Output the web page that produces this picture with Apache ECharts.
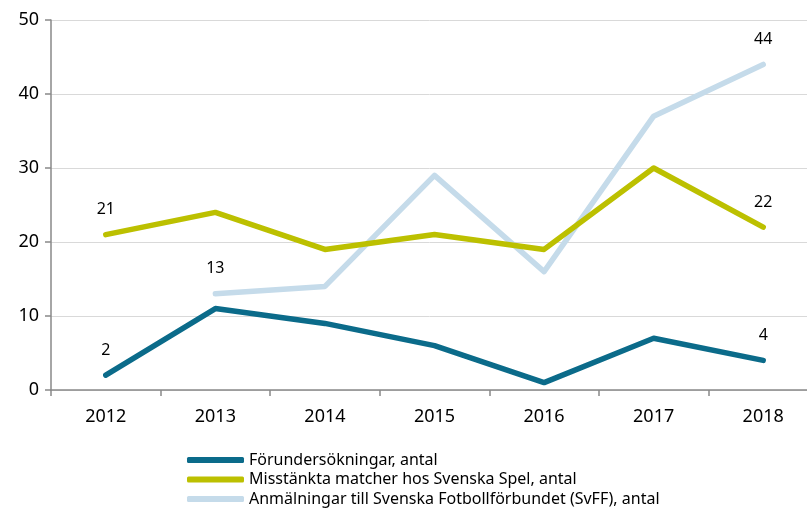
<!DOCTYPE html>
<html>
<head>
<meta charset="utf-8">
<script src="https://cdn.jsdelivr.net/npm/echarts@6/dist/echarts.min.js"></script>
<style>
  html, body { margin: 0; padding: 0; background: #fff; }
  #chart { width: 807px; height: 508px; }
</style>
</head>
<body>
<div id="chart"></div>
<script>
// kategorier och serier
var years = ["2012", "2013", "2014", "2015", "2016", "2017", "2018"];
var forundersokningar = [2, 11, 9, 6, 1, 7, 4];
var misstankta = [21, 24, 19, 21, 19, 30, 22];
var anmalningar = [null, 13, 14, 29, 16, 37, 44];
var seriesNames = [
  "Förundersökningar, antal",
  "Misstänkta matcher hos Svenska Spel, antal",
  "Anmälningar till Svenska Fotbollförbundet (SvFF), antal"
];
var colors = ["#0b6b8a", "#bcc000", "#c5dbea"];

var font = "Noto Sans";

// etikett bara på första och sista punkten
function endLabels(data) {
  var first = -1, last = -1;
  for (var i = 0; i < data.length; i++) {
    if (data[i] != null) { if (first < 0) first = i; last = i; }
  }
  return data.map(function (v, i) {
    if (i === first || i === last) {
      return { value: v, label: { show: true } };
    }
    return v;
  });
}

function makeSeries(name, data, color, z) {
  return {
    name: name,
    type: "line",
    data: endLabels(data),
    z: z,
    symbol: "circle",
    symbolSize: 0,
    showSymbol: true,
    lineStyle: { color: color, width: 5.5, cap: "round", join: "round" },
    itemStyle: { color: color },
    label: {
      show: false, position: "top", distance: 17,
      fontFamily: font, fontSize: 16, color: "#000"
    },
    emphasis: { disabled: true }
  };
}

function makeLegend(i) {
  return {
    orient: "vertical",
    left: 187, top: 452 + i * 19.5,
    padding: 0,
    icon: "roundRect",
    itemWidth: 57, itemHeight: 6,
    textStyle: { fontFamily: font, fontSize: 16, color: "#000" },
    data: [seriesNames[i]]
  };
}

var chart = echarts.init(document.getElementById("chart"));
chart.setOption({
  animation: false,
  color: colors,
  grid: { left: 51, top: 20, width: 767, height: 370, outerBoundsMode: "none", containLabel: false },
  xAxis: {
    type: "category",
    data: years,
    boundaryGap: true,
    axisLine: { lineStyle: { color: "#898989", width: 1.5 } },
    axisTick: { show: true, length: 6, interval: 0, lineStyle: { color: "#898989", width: 1.5 } },
    axisLabel: { fontFamily: font, fontSize: 18, color: "#000", margin: 18 }
  },
  yAxis: {
    type: "value",
    min: 0, max: 50, interval: 10,
    axisLine: { show: true, lineStyle: { color: "#898989", width: 1.5 } },
    axisTick: { show: true, length: 6, inside: false, lineStyle: { color: "#898989", width: 1.5 } },
    axisLabel: { fontFamily: font, fontSize: 18, color: "#000", margin: 12 },
    splitLine: { lineStyle: { color: "#d9d9d9", width: 1 } }
  },
  legend: [makeLegend(0), makeLegend(1), makeLegend(2)],
  series: [
    makeSeries(seriesNames[2], anmalningar, colors[2], 2),
    makeSeries(seriesNames[1], misstankta, colors[1], 3),
    makeSeries(seriesNames[0], forundersokningar, colors[0], 4)
  ]
});
</script>
</body>
</html>
